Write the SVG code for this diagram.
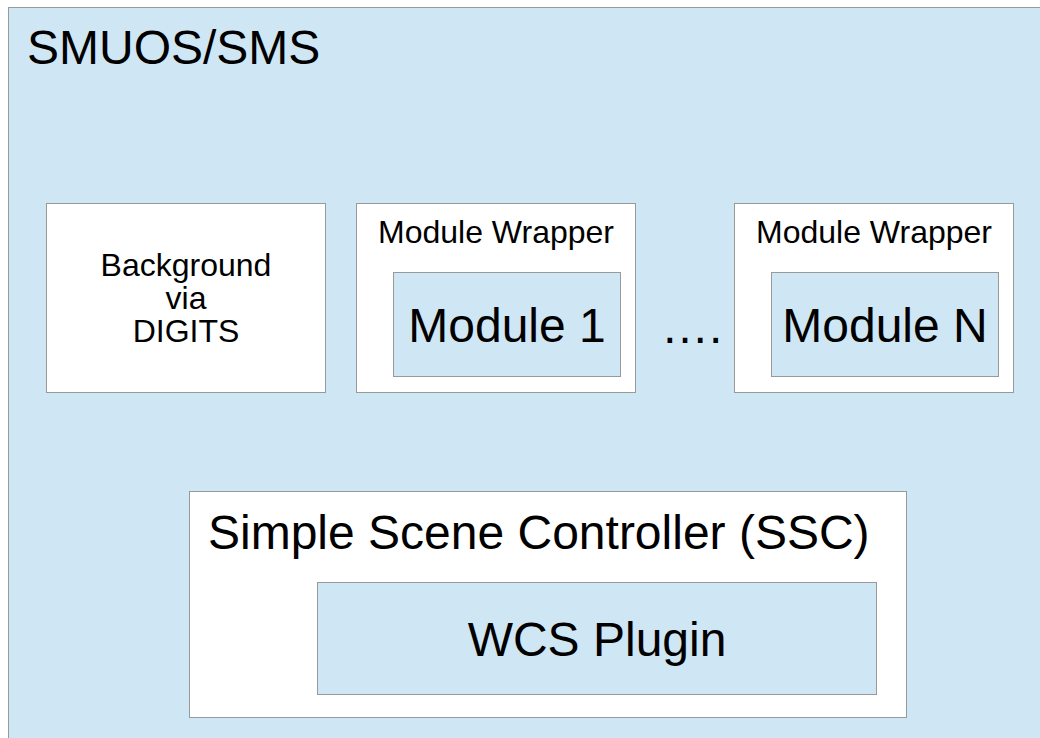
<svg xmlns="http://www.w3.org/2000/svg" width="1040" height="738" viewBox="0 0 1040 738">
<style>
.blue{fill:#cfe7f5;stroke:#999;stroke-width:1}
.white{fill:#fff;stroke:#999;stroke-width:1}
text{font-family:"Liberation Sans",Arial,sans-serif;fill:#000}
.big{font-size:48px}
.med{font-size:32px}
.c{text-anchor:middle}
</style>
<g id="smuos">
<rect class="blue" x="8.5" y="7.5" width="1040" height="740"/>
<text class="big" x="27" y="64">SMUOS/SMS</text>
</g>
<g id="background">
<rect class="white" x="46.5" y="203.5" width="279" height="189"/>
<text class="med c" x="186" y="276">Background</text>
<text class="med c" x="186" y="309">via</text>
<text class="med c" x="186" y="342">DIGITS</text>
</g>
<g id="wrapper1">
<rect class="white" x="356.5" y="203.5" width="279" height="189"/>
<text class="med c" x="496" y="243">Module Wrapper</text>
</g>
<g id="module1">
<rect class="blue" x="393.5" y="272.5" width="227" height="104"/>
<text class="big c" x="507" y="342">Module 1</text>
</g>
<g id="dots">
<text class="big" x="661" y="343">….</text>
</g>
<g id="wrapperN">
<rect class="white" x="734.5" y="203.5" width="279" height="189"/>
<text class="med c" x="874" y="243">Module Wrapper</text>
</g>
<g id="moduleN">
<rect class="blue" x="771.5" y="272.5" width="227" height="104"/>
<text class="big c" x="885" y="342">Module N</text>
</g>
<g id="ssc">
<rect class="white" x="189.5" y="491.5" width="717" height="226"/>
<text class="big" x="208" y="549">Simple Scene Controller (SSC)</text>
</g>
<g id="wcs">
<rect class="blue" x="317.5" y="582.5" width="559" height="112"/>
<text class="big c" x="597" y="656">WCS Plugin</text>
</g>
<g id="connectors"></g>
</svg>
